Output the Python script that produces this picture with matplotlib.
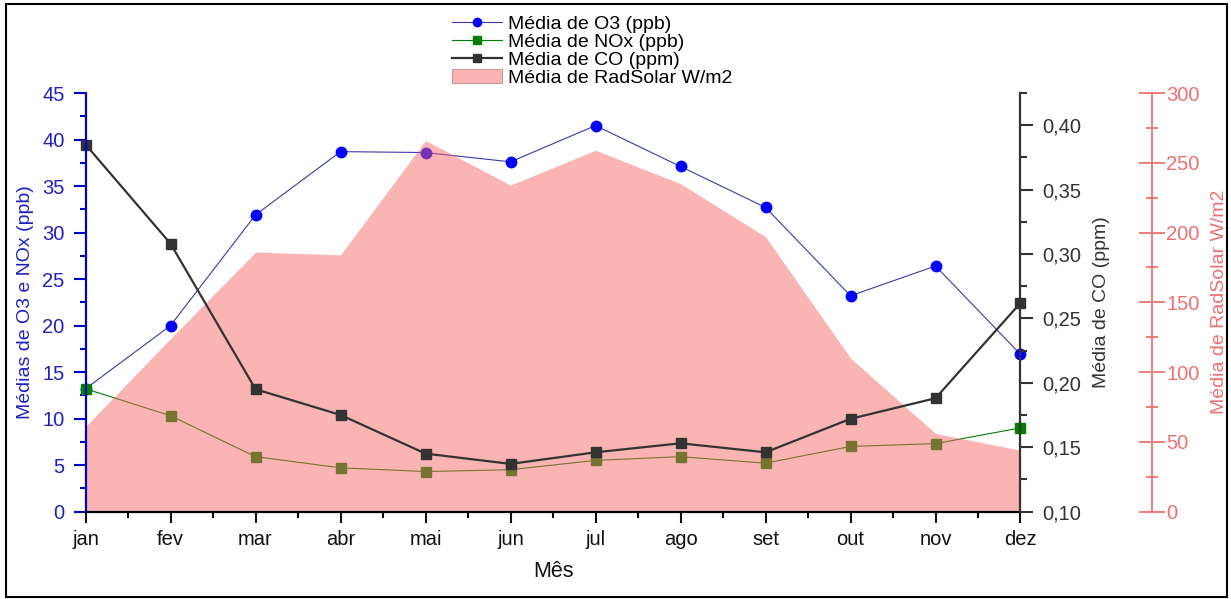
import numpy as np
import matplotlib
matplotlib.use("Agg")
import matplotlib.pyplot as plt
from matplotlib.ticker import MultipleLocator, FuncFormatter
from matplotlib.patches import Rectangle, Patch

plt.rcParams['font.family'] = ['Liberation Sans', 'DejaVu Sans']

# data
meses = ['jan', 'fev', 'mar', 'abr', 'mai', 'jun', 'jul', 'ago', 'set', 'out', 'nov', 'dez']
o3 = [13.2, 20.0, 31.9, 38.7, 38.6, 37.6, 41.5, 37.1, 32.7, 23.2, 26.4, 16.9]
nox = [13.2, 10.3, 5.9, 4.7, 4.3, 4.5, 5.5, 5.9, 5.2, 7.0, 7.3, 9.0]
co = [0.385, 0.308, 0.195, 0.175, 0.145, 0.137, 0.146, 0.153, 0.146, 0.172, 0.188, 0.262]
rad = [61, 124, 186, 184, 266, 234, 259, 235, 197, 110, 56, 44]

x = np.arange(len(meses))

fig = plt.figure(figsize=(12.31, 5.99), dpi=100)
ax = fig.add_axes([0.0695, 0.146, 0.7595, 0.6987])
ax_rad = ax.twinx()
ax_co = ax.twinx()

blue = '#0000ff'
green = '#008000'
gray = '#333333'
red = '#f07070'
fill_col = '#f56666'

ax.set_xlim(0, 11)
ax.set_ylim(0, 45)
ax_co.set_ylim(0.10, 0.425)
ax_rad.set_ylim(0, 300)

# series: all drawn inside the main axes so the pink fill can sit between them
l_o3, = ax.plot(x, o3, color='#3a3aa8', lw=0.8, marker='o', ms=7.5,
                mfc=blue, mec=blue, zorder=2.0, clip_on=False)
l_nox, = ax.plot(x, nox, color=green, lw=0.8, marker='s', ms=6.5,
                 mfc=green, mec=green, zorder=2.1, clip_on=False)
fill = ax.fill_between(x, rad, 0, transform=ax_rad.transData, color=fill_col, alpha=0.49,
                       lw=0, zorder=2.3)
l_co, = ax.plot(x, co, transform=ax_co.transData, color=gray, lw=1.6, marker='s', ms=6.5,
                mfc=gray, mec=gray, zorder=2.45, clip_on=False)
ax.set_ylim(0, 45)

# main axes: left (blue) + bottom
for s in ['top', 'right']:
    ax.spines[s].set_visible(False)
ax.spines['left'].set_color('#0000cc')
ax.spines['left'].set_linewidth(1.6)
ax.spines['bottom'].set_linewidth(1.6)
ax.set_xticks(x)
ax.set_xticklabels(meses)
ax.xaxis.set_minor_locator(MultipleLocator(0.5))
ax.yaxis.set_major_locator(MultipleLocator(5))
ax.yaxis.set_minor_locator(MultipleLocator(2.5))
ax.tick_params(axis='x', which='major', length=8, width=1.5, pad=5, labelsize=14.5, colors='#111111')
ax.tick_params(axis='x', which='minor', length=4, width=1.5)
ax.tick_params(axis='y', which='major', length=9, width=1.5, pad=6, labelsize=14.5,
               colors='#0000cc', labelcolor='#2020c0')
ax.tick_params(axis='y', which='minor', length=4, width=1.5, colors='#0000cc')
ax.set_xlabel('Mês', fontsize=15.5, color='#111111', labelpad=9)
ax.set_ylabel('Médias de O3 e NOx (ppb)', fontsize=14, color='#2020c0', labelpad=6)

# CO axis
for s in ['top', 'left', 'bottom']:
    ax_co.spines[s].set_visible(False)
ax_co.spines['right'].set_color(gray)
ax_co.spines['right'].set_linewidth(1.6)
ax_co.yaxis.set_major_locator(MultipleLocator(0.05))
ax_co.yaxis.set_minor_locator(MultipleLocator(0.025))
ax_co.yaxis.set_major_formatter(FuncFormatter(lambda v, p: f'{v:.2f}'.replace('.', ',')))
ax_co.tick_params(axis='y', which='major', length=9, width=1.5, pad=7, labelsize=14.5,
                  colors=gray)
ax_co.tick_params(axis='y', which='minor', length=5, width=1.5, colors=gray)
ax_co.set_ylabel('Média de CO (ppm)', fontsize=14, color=gray, labelpad=8)

# RadSolar axis
for s in ['top', 'left', 'bottom']:
    ax_rad.spines[s].set_visible(False)
ax_rad.spines['right'].set_position(('axes', 1.1403))
ax_rad.spines['right'].set_color(red)
ax_rad.spines['right'].set_linewidth(1.3)
ax_rad.yaxis.set_major_locator(MultipleLocator(50))
ax_rad.yaxis.set_minor_locator(MultipleLocator(25))
ax_rad.tick_params(axis='y', which='major', direction='inout', length=19, width=1.3,
                   pad=1, labelsize=14.5, colors=red)
ax_rad.tick_params(axis='y', which='minor', direction='inout', length=9, width=1.3, colors=red)
ax_rad.set_ylabel('Média de RadSolar W/m2', fontsize=14, color=red, labelpad=8)

rad_handle = Patch(facecolor='#fbb4b4', edgecolor='#c89a9a', lw=0.8)
fig.legend([l_o3, l_nox, l_co, rad_handle],
           ['Média de O3 (ppb)', 'Média de NOx (ppb)', 'Média de CO (ppm)', 'Média de RadSolar W/m2'],
           loc='upper left', bbox_to_anchor=(0.367, 0.975), frameon=False, fontsize=14,
           handlelength=2.6, handleheight=0.75, handletextpad=0.3, labelspacing=0.0,
           borderpad=0, borderaxespad=0, markerscale=0.8)

# outer frame
fig.patches.append(Rectangle((0.005, 0.004), 0.992, 0.99, transform=fig.transFigure,
                             fill=False, ec='black', lw=1.5))

fig.savefig('out.png', dpi=100)
